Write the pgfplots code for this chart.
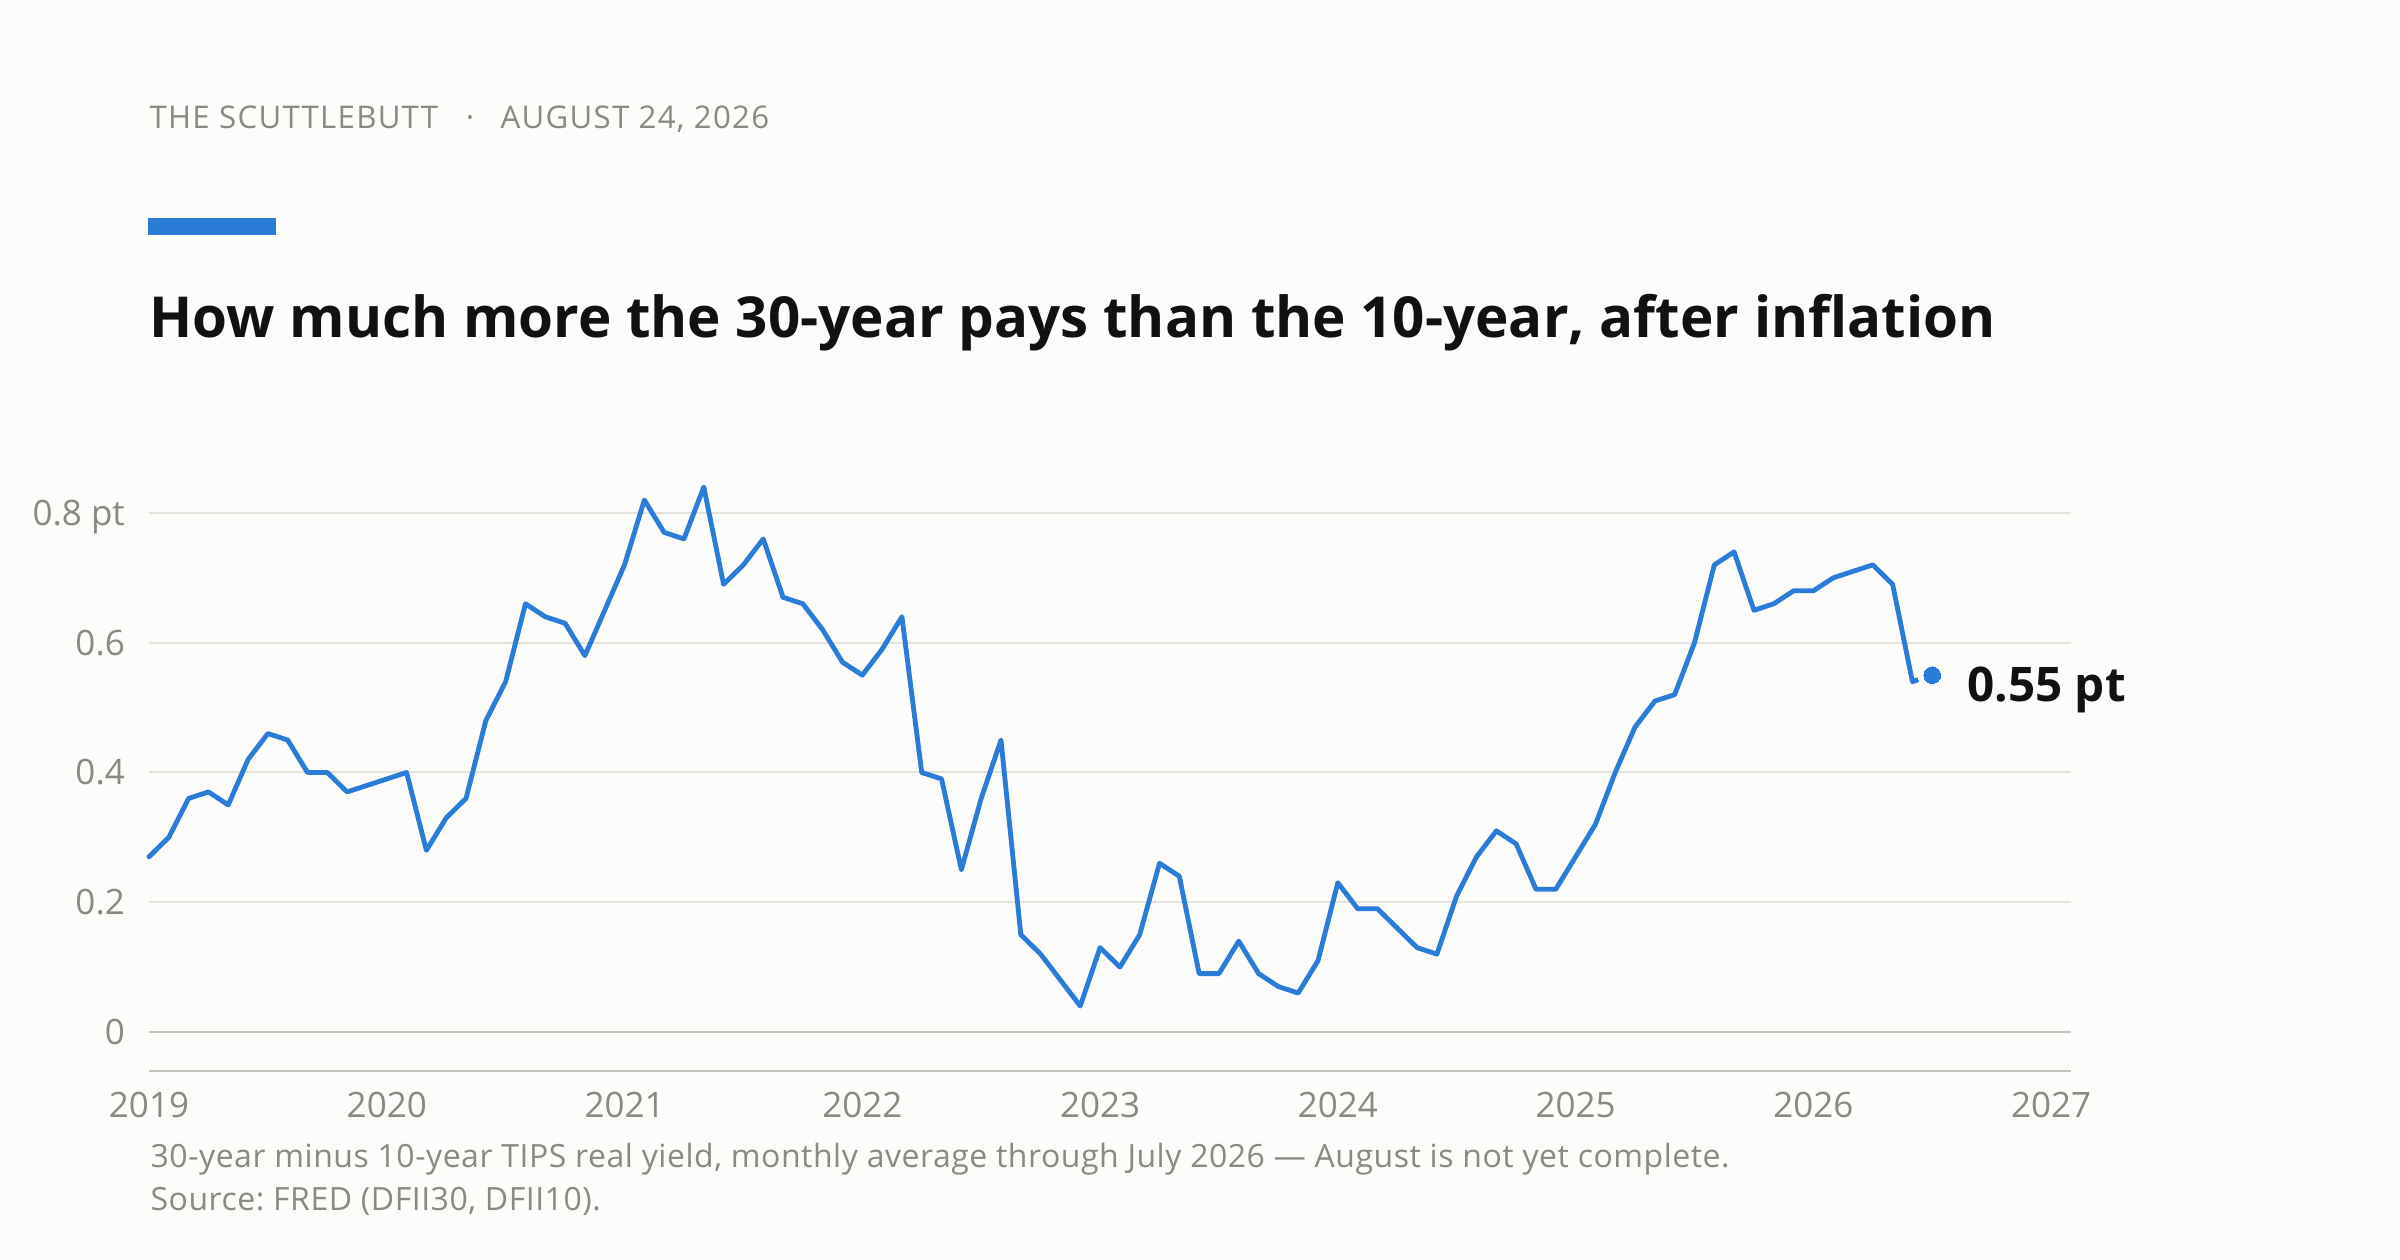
\documentclass[border=0pt]{standalone}
\usepackage{pgfplots}
\pgfplotsset{compat=1.18}
\usepackage{pgfplotstable}
\usepackage{fontspec}
\setmainfont{Open Sans}
\frenchspacing
\definecolor{bg}{HTML}{FCFCFA}
\definecolor{lineblue}{HTML}{2B7BD9}
\definecolor{txtgray}{HTML}{8A8A82}
\definecolor{gridgray}{HTML}{E3E3DC}
\definecolor{axisgray}{HTML}{C4C4BA}
\definecolor{titleblack}{HTML}{111111}

\pgfplotstableread{
m v
0 0.27
1 0.30
2 0.36
3 0.37
4 0.35
5 0.42
6 0.46
7 0.45
8 0.40
9 0.40
10 0.37
11 0.38
12 0.39
13 0.40
14 0.28
15 0.33
16 0.36
17 0.48
18 0.54
19 0.66
20 0.64
21 0.63
22 0.58
23 0.65
24 0.72
25 0.82
26 0.77
27 0.76
28 0.84
29 0.69
30 0.72
31 0.76
32 0.67
33 0.66
34 0.62
35 0.57
36 0.55
37 0.59
38 0.64
39 0.40
40 0.39
41 0.25
42 0.36
43 0.45
44 0.15
45 0.12
46 0.08
47 0.04
48 0.13
49 0.10
50 0.15
51 0.26
52 0.24
53 0.09
54 0.09
55 0.14
56 0.09
57 0.07
58 0.06
59 0.11
60 0.23
61 0.19
62 0.19
63 0.16
64 0.13
65 0.12
66 0.21
67 0.27
68 0.31
69 0.29
70 0.22
71 0.22
72 0.27
73 0.32
74 0.40
75 0.47
76 0.51
77 0.52
78 0.60
79 0.72
80 0.74
81 0.65
82 0.66
83 0.68
84 0.68
85 0.70
86 0.71
87 0.72
88 0.69
89 0.54
90 0.55
}\spread

\begin{document}
\begin{tikzpicture}[x=0.3pt,y=0.3pt]
\fill[bg] (0,0) rectangle (2400,1260);
% header
\node[anchor=base west, inner sep=0pt, text=txtgray, font=\fontsize{9.37}{11}\selectfont\addfontfeature{LetterSpace=4}] at (149,1131.7) {THE SCUTTLEBUTT};
\node[anchor=base, inner sep=0pt, text=txtgray, font=\fontsize{9.37}{11}\selectfont] at (470,1131.7) {·};
\node[anchor=base west, inner sep=0pt, text=txtgray, font=\fontsize{9.37}{11}\selectfont\addfontfeature{LetterSpace=4}] at (500,1131.7) {AUGUST 24, 2026};
% bar
\fill[lineblue] (148,1025.3) rectangle (276,1042.3);
% title
\node[anchor=base west, inner sep=0pt, text=titleblack, font=\fontsize{16.95}{20}\selectfont\bfseries] at (149,922.7) {How much more the 30-year pays than the 10-year, after inflation};
% footer
\node[anchor=base west, inner sep=0pt, text=txtgray, font=\fontsize{9.6}{11}\selectfont\addfontfeature{LetterSpace=1.6}] at (150,92.7) {30-year minus 10-year TIPS real yield, monthly average through July 2026 --- August is not yet complete.};
\node[anchor=base west, inner sep=0pt, text=txtgray, font=\fontsize{9.6}{11}\selectfont\addfontfeature{LetterSpace=1.6}] at (150,49) {Source: FRED (DFII30, DFII10).};

\begin{axis}[
  at={(44.7pt,56.61pt)}, anchor=south west,
  scale only axis, width=576.6pt, height=186.96pt,
  xmin=0, xmax=97, ymin=-0.0606, ymax=0.9,
  clip=false,
  axis x line=bottom, axis y line=left,
  x axis line style={draw=axisgray, line width=0.7pt, -},
  y axis line style={draw=none},
  major tick length=0pt,
  tick style={draw=none},
  xtick={0,12,24,36,48,60,72,84,96},
  xticklabels={2019,2020,2021,2022,2023,2024,2025,2026,2027},
  ytick={0.2,0.4,0.6,0.8},
  yticklabels={0.2,0.4,0.6,0.8 pt},
  extra y ticks={0},
  extra y tick labels={0},
  extra y tick style={grid style={draw=axisgray, line width=0.75pt}},
  ymajorgrids,
  grid style={draw=gridgray, line width=0.6pt},
  xticklabel style={anchor=base, inner sep=0pt, yshift=-13.9pt, text=txtgray, font=\fontsize{10.5}{12}\selectfont},
  yticklabel style={anchor=base east, inner sep=0pt, xshift=-7.05pt, yshift=-3.75pt, text=txtgray, font=\fontsize{10.5}{12}\selectfont},
]
\addplot[lineblue, line width=1.45pt, line join=round, line cap=round] table[x=m, y=v] {\spread};
\addplot[only marks, mark=*, mark size=4.2pt, draw=bg, fill=bg, mark options={draw=bg, fill=bg, line width=0pt}] coordinates {(90,0.55)};
\addplot[only marks, mark=*, mark size=2.5pt, color=lineblue, mark options={draw=lineblue, fill=lineblue, line width=0pt}] coordinates {(90,0.55)};
\node[anchor=base west, inner sep=0pt, xshift=10.3pt, yshift=-7.8pt, text=titleblack, font=\fontsize{14.3}{16}\selectfont\bfseries] at (axis cs:90,0.55) {0.55 pt};
\end{axis}
\pgfresetboundingbox
\path (0,0) rectangle (2400,1260);
\end{tikzpicture}
\end{document}
